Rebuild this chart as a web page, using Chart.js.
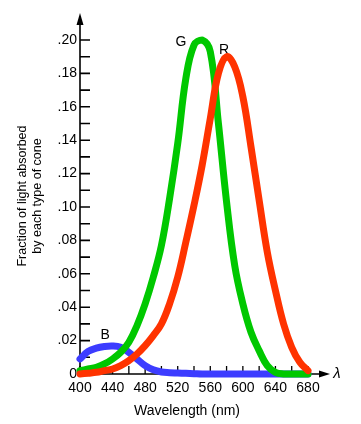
<!DOCTYPE html>
<html>
<head>
<meta charset="utf-8">
<script src="https://cdn.jsdelivr.net/npm/chart.js@4/dist/chart.umd.min.js"></script>
<style>
html,body{margin:0;padding:0;background:#fff;}
#wrap{width:361px;height:424px;position:relative;}
canvas{display:block;}
</style>
</head>
<body>
<div id="wrap"><canvas id="c" width="361" height="424"></canvas></div>
<script>
// ---- data ----
const wavelengths = [400,410,420,430,440,450,460,470,480,490,500,510,520,530,540,550,560,570,580,590,600,610,620,630,640,650,660,670,680];
const redCone   = [0,0.0005,0.001,0.002,0.003,0.005,0.008,0.012,0.017,0.023,0.030,0.042,0.058,0.079,0.101,0.125,0.153,0.180,0.190,0.184,0.166,0.136,0.104,0.073,0.050,0.030,0.016,0.007,0.002];
const greenCone = [0.002,0.003,0.004,0.006,0.009,0.013,0.019,0.029,0.042,0.058,0.077,0.105,0.138,0.177,0.197,0.200,0.193,0.150,0.103,0.065,0.042,0.025,0.014,0.005,0.001,0,0,0,0];
const blueCone  = [0.009,0.0135,0.0155,0.0165,0.0168,0.016,0.013,0.009,0.005,0.0025,0.0012,0.0008,0.0006,0.0004,0.0002,0,0,0,0,0,0,0,0,0,0,0,0,0,0];
const seriesNames = ['R','G','B'];
const xTickValues = [400,440,480,520,560,600,640,680];
const xTickLabels = ['400','440','480','520','560','600','640','680'];
const yTickValues = [0,0.02,0.04,0.06,0.08,0.10,0.12,0.14,0.16,0.18,0.20];
const yTickLabels = ['0','.02','.04','.06','.08','.10','.12','.14','.16','.18','.20'];
const xTitle = 'Wavelength (nm)';
const yTitle = ['Fraction of light absorbed','by each type of cone'];
// curve label anchors in data units
const curveLabelAnchors = {G:[524,0.1988], R:[577,0.194], B:[431,0.0234]};

const FONT = "'Liberation Sans', Arial, Helvetica, sans-serif";
Chart.defaults.font.family = FONT;
Chart.defaults.color = '#000';

const pts = arr => wavelengths.map((w,i)=>({x:w, y:arr[i]}));

const decor = {
  id:'decor',
  beforeDatasetsDraw(chart){
    const {ctx, chartArea, scales:{x,y}} = chart;
    const x0 = x.getPixelForValue(400), y0 = y.getPixelForValue(0);
    ctx.save();
    ctx.strokeStyle = '#000'; ctx.fillStyle = '#000'; ctx.lineWidth = 1.6;
    // y axis line + arrow
    ctx.beginPath(); ctx.moveTo(x0, y0+1); ctx.lineTo(x0, chartArea.top-18); ctx.stroke();
    ctx.beginPath(); ctx.moveTo(x0, chartArea.top-27); ctx.lineTo(x0-3.5, chartArea.top-15); ctx.lineTo(x0+3.5, chartArea.top-15); ctx.closePath(); ctx.fill();
    // y ticks (inward)
    ctx.beginPath();
    y.ticks.forEach(t=>{ const py = y.getPixelForValue(t.value); ctx.moveTo(x0, py); ctx.lineTo(x0+10, py); });
    ctx.stroke();
    // x axis line + arrow
    ctx.beginPath(); ctx.moveTo(x0-1, y0); ctx.lineTo(chartArea.right+14, y0); ctx.stroke();
    ctx.beginPath(); ctx.moveTo(chartArea.right+22, y0); ctx.lineTo(chartArea.right+11, y0-3.5); ctx.lineTo(chartArea.right+11, y0+3.5); ctx.closePath(); ctx.fill();
    // x ticks (upward)
    ctx.lineWidth = 1.3;
    ctx.beginPath();
    x.ticks.forEach(t=>{ const px = x.getPixelForValue(t.value); ctx.moveTo(px, y0); ctx.lineTo(px, y0-8); });
    ctx.stroke();
    // curve labels
    ctx.font = '14px ' + FONT;
    ctx.textAlign = 'center'; ctx.textBaseline = 'middle';
    Object.keys(curveLabelAnchors).forEach(k=>{
      const [lx,ly] = curveLabelAnchors[k];
      ctx.fillText(k, x.getPixelForValue(lx), y.getPixelForValue(ly));
    });
    // lambda
    ctx.font = 'italic 15px ' + FONT;
    ctx.fillText('λ', chartArea.right+29, y0);
    // axis titles
    ctx.font = '14px ' + FONT;
    ctx.fillText(xTitle, (x0 + chartArea.right)/2 - 7, y0 + 37);
    ctx.save();
    ctx.translate(22.5, (chartArea.top + y0)/2 - 11);
    ctx.rotate(-Math.PI/2);
    ctx.font = '12.5px ' + FONT;
    ctx.fillText(yTitle[0], 0, 0);
    ctx.fillText(yTitle[1], 0, 15);
    ctx.restore();
    ctx.restore();
  }
};

const lineDs = (label, arr, color) => ({
  label, data: pts(arr), borderColor: color, backgroundColor: color,
  borderWidth: 7, pointRadius: 0, fill: false, clip: false,
  tension: 0.4, borderCapStyle: 'round', borderJoinStyle: 'round'
});

new Chart(document.getElementById('c'), {
  type: 'line',
  data: {
    datasets: [
      lineDs(seriesNames[0], redCone, '#ff3300'),
      lineDs(seriesNames[1], greenCone, '#00c800'),
      lineDs(seriesNames[2], blueCone, '#3c3cff')
    ]
  },
  options: {
    responsive: false,
    animation: false,
    devicePixelRatio: 1,
    layout: { padding: { left: 0, top: 40, right: 53, bottom: 0 } },
    plugins: { legend: { display: false }, tooltip: { enabled: false } },
    scales: {
      x: {
        type: 'linear', min: 400, max: 680,
        grid: { display: false, drawTicks: false }, border: { display: false },
        ticks: {
          stepSize: 20, autoSkip: false, maxRotation: 0, padding: 6,
          font: { size: 14 }, color: '#000',
          callback: v => { const i = xTickValues.indexOf(Math.round(v)); return i >= 0 ? xTickLabels[i] : ''; }
        },
        afterFit: s => { s.height = 50; }
      },
      y: {
        min: 0, max: 0.2,
        grid: { display: false, drawTicks: false }, border: { display: false },
        ticks: {
          stepSize: 0.01, autoSkip: false, padding: 3,
          font: { size: 14 }, color: '#000',
          callback: v => { const i = yTickValues.findIndex(t => Math.abs(t - v) < 1e-6); return i >= 0 ? yTickLabels[i] : ''; }
        },
        afterFit: s => { s.width = 80; }
      }
    }
  },
  plugins: [decor]
});
</script>
</body>
</html>
